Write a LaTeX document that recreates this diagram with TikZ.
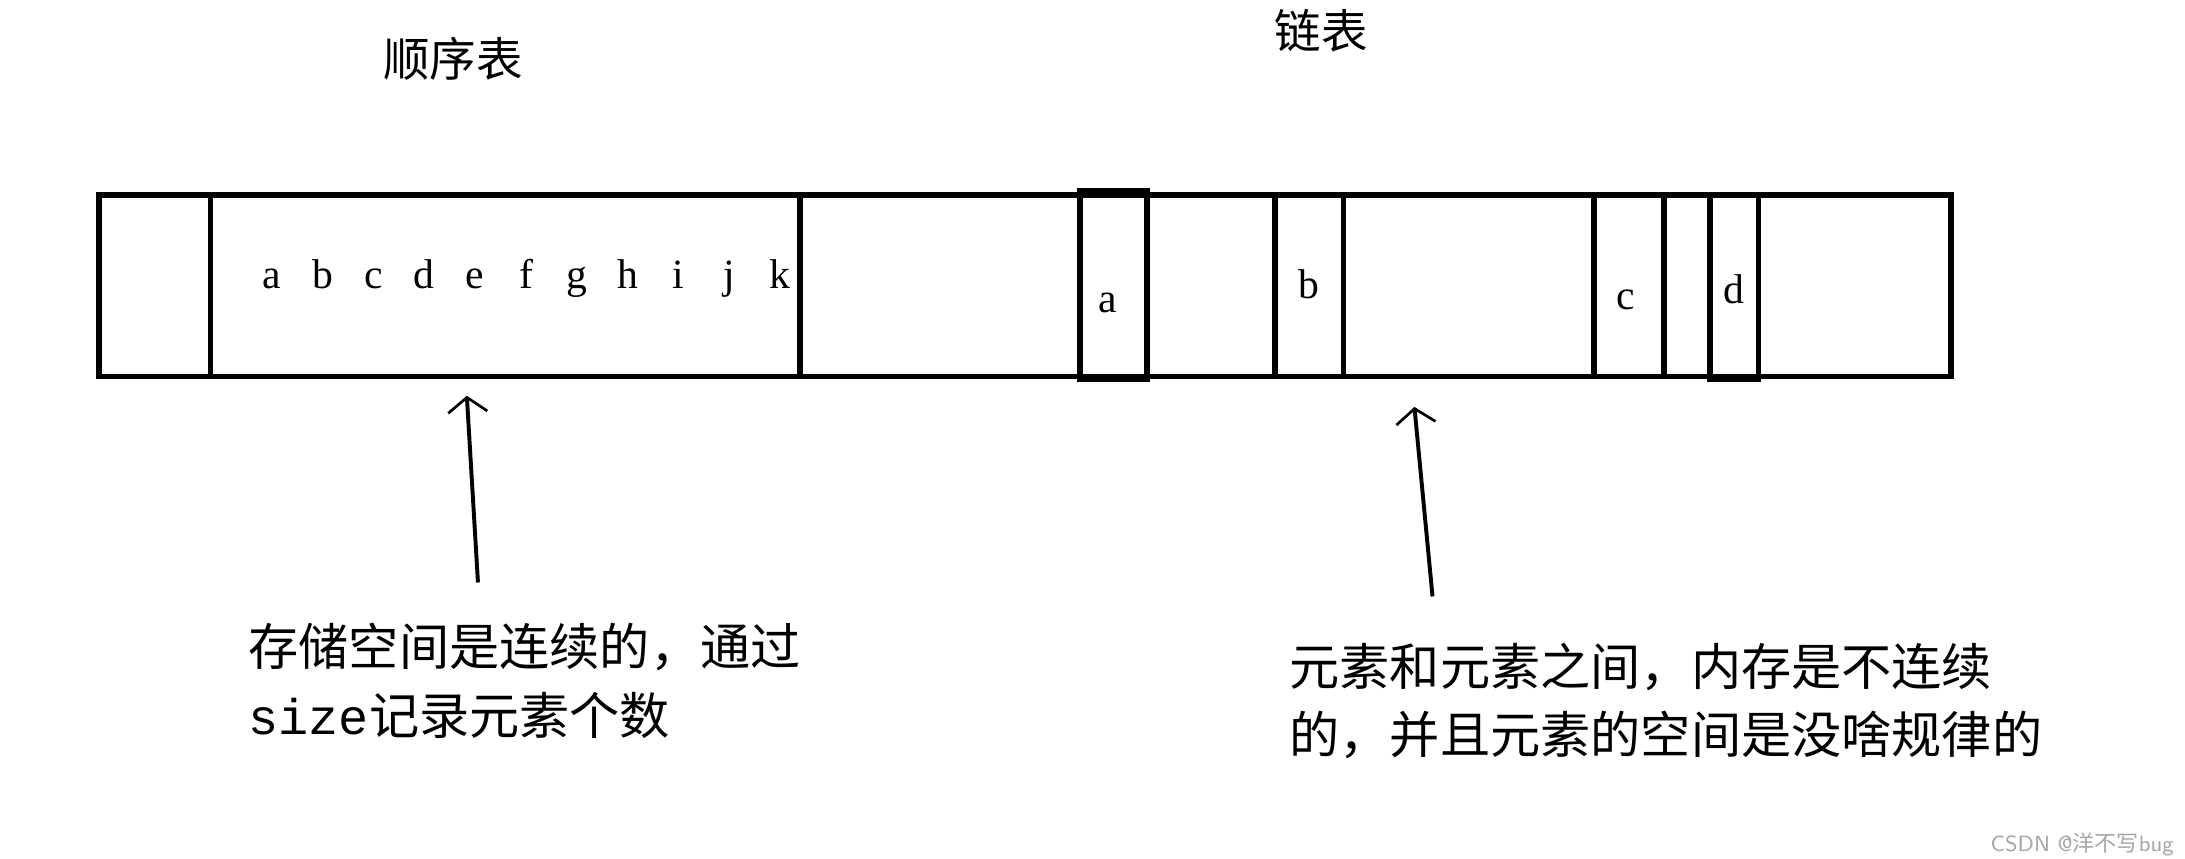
\documentclass[tikz,border=0pt]{standalone}
\usepackage{fontspec}
\setmainfont{Liberation Serif}
\setmonofont{Liberation Mono}
\newfontfamily\cjk{Noto Sans CJK SC}
\usetikzlibrary{positioning,arrows.meta}
\tikzset{
  cell/.style={draw=black,line width=2.2pt},
  letter/.style={font=\fontsize{17}{20}\selectfont,anchor=base},
  note/.style={font=\cjk\fontsize{20.5}{28}\selectfont,align=left,anchor=north west,inner sep=0pt},
  pointer/.style={line width=1.6pt,-{Straight Barb[length=6pt,width=16pt,line width=1.1pt]}}
}
\begin{document}
\begin{tikzpicture}[x=0.02cm,y=-0.02cm]
        \useasboundingbox (0,0) rectangle (1568,616);
        % memory strip
        \draw[cell] (71,140) rectangle (1400,270);
        \draw[cell] (151,140) rectangle (574,270);
        \draw[cell] (775,137) rectangle (823,272);
        \draw[cell] (915,140) rectangle (964,270);
        \draw[cell] (1144,140) rectangle (1194,270);
        \draw[cell] (1227,140) rectangle (1262,272);
        % letters
        \foreach \ch [count=\i from 0] in {a,b,c,d,e,f,g,h,i,j,k}
          \node[letter] (s-\ch) at (195+36.5*\i,207) {\ch};
        \node[letter] (l-a) at (795,224) {a};
        \node[letter] (l-b) at (939,214) {b};
        \node[letter] (l-c) at (1167,222) {c};
        \node[letter] (l-d) at (1244,218) {d};
        % titles
        \node[font=\cjk\fontsize{19}{22}\selectfont] (seq) at (325,42) {顺序表};
        \node[font=\cjk\fontsize{19}{22}\selectfont] (link) at (948,22) {链表};
        % notes
        \node[note] (seqnote) at (178,447) {存储空间是连续的，通过\\{\ttfamily size}记录元素个数};
        \node[note] (linknote) at (925,461) {元素和元素之间，内存是不连续\\的，并且元素的空间是没啥规律的};
        \coordinate (seqtip) at (335,284);
        \coordinate (linktip) at (1015,292);
        \coordinate (seqtail) at (343,418);
        \coordinate (linktail) at (1028,428);
        \draw[pointer] (seqtail) -- (seqtip);
        \draw[pointer] (linktail) -- (linktip);
        \node[font=\sffamily\fontsize{9}{10}\selectfont,text=gray!70,anchor=east] (mark) at (1566,606) {CSDN @{\cjk 洋不写}bug};
\end{tikzpicture}
\end{document}
